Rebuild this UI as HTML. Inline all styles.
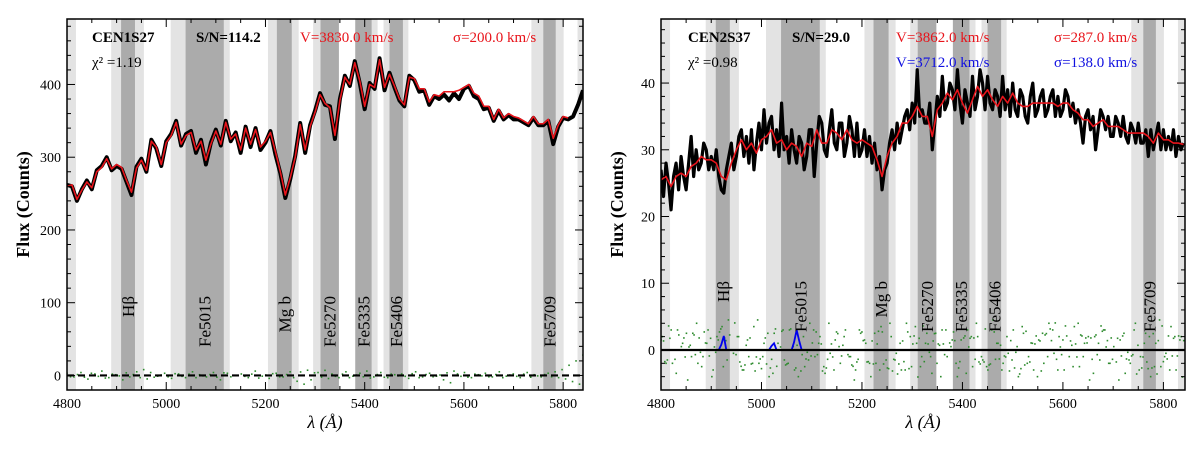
<!DOCTYPE html>
<html><head><meta charset="utf-8"><style>
html,body{margin:0;padding:0;background:#fff;}
svg{display:block;font-family:"Liberation Serif",serif;}
</style></head><body>
<svg id="fig" width="1200" height="450" viewBox="0 0 1200 450" font-family="Liberation Serif, serif"></svg>
<script>
// ---------- data ----------
const bandLight = [[4800,4818],[4889,4955],[5009,5128],[5205,5267],[5296,5348],[5381,5426],[5438,5488],[5736,5801],[5829,5850]];
const bandDark = [[4909,4937],[5039,5116],[5223,5253],[5311,5348],[5381,5414],[5450,5477],[5760,5785]];
const bandNames = ["H\u03B2","Fe5015","Mg b","Fe5270","Fe5335","Fe5406","Fe5709"];
const xTicks = [4800,5000,5200,5400,5600,5800];

const leftModel = [260,262,242,255,266,258,280,286,298,284,290,286,268,252,285,296,282,322,314,290,320,330,348,318,330,334,310,322,296,318,336,318,348,325,332,310,340,318,338,314,322,334,308,280,248,272,300,345,310,342,362,386,374,368,330,378,410,400,430,405,370,400,396,434,396,414,398,380,372,410,408,394,394,376,386,384,390,390,390,392,396,400,388,384,370,370,352,366,354,360,356,354,350,346,356,346,346,352,326,344,356,354];
const leftObs = [262,260,240,256,268,256,282,288,300,282,288,284,266,248,287,298,280,324,312,288,322,332,350,316,332,336,306,324,290,320,338,316,350,322,334,306,342,314,340,310,320,336,304,278,244,270,302,347,306,344,364,388,372,370,325,380,412,398,432,402,366,402,394,436,392,416,396,378,370,412,406,390,392,372,384,380,386,378,388,380,394,398,384,380,366,368,350,364,352,358,352,352,348,344,354,344,344,350,318,342,354,352,356,372,392];
const leftResid = [3,-2,4,-5,2,6,-3,1,-6,-2,5,8,4,-1,3,-4,2,-3,5,1,-2,4,-6,3,0,2,-3,6,-1,-4,3,-2,5,-8,-12,-6,4,7,2,-3,5,-1,3,6,-2,4,-3,1,2,-4,5,-2,3,-1,-6,-10,2,4,-3,1,3,-2,5,-1,2,-3,4,1,-2,3,5,8,14,20,28];
const rightModel = [25.5,26,24.5,26,26.5,26,27.5,28,29,28.5,28.5,28,26,25.5,28,30,31.5,30,31,29.5,31.5,32,33,31,31.5,30,31,30.5,29,31,30.5,33,31,31,33,32.5,31.5,33,31.5,31,31.5,31,30.5,28.5,26,29,31,32,34,34,35,36.5,35,35,32,36,37,38.5,37.5,39,37,35.5,37.5,39.5,38,39,37.5,36.5,38,37,38.5,37,36.5,36.5,37,37,37,37,37,36.5,37,37,36,35.5,34.5,34.5,33.5,34,34.5,33.5,33.5,33.5,33,32.5,32.5,32.5,32.5,32,31,32.5,31.5,31.5,31,31,30.8];
const rightObs = [27,23,28,25,21,26,28,24,29,26,24,28,32,26,30,27,28,31,30,27,29,27,30,26,24,23.5,27,29,31,27,29,32,33,29,32,28,33,27,31,34,30,36,31,34,35,30,33,29,37,30,32,28,33,30,28,32,31,27,29,33,33,26,31,35,34,30,29,33,36,31,30,34,34,29,31,35,33,29,34,29,30,33,29,32,28,31,27,29,24,27,28,31,33,30,34,31,33,35,36,33,37,34,42,35,36,34,34,37,30,34,38,35,41,36,37,40,39,36,42,37,34,39,37,35,41,36,38,42,40,36,41,37,36,39,38,35,41,36,39,35,40,36,35,39,38,35,34,38,40,35,36,38,39,35,36,38,39,35,38,35,36,39,38,35,37,34,36,34,31,35,36,33,35,30,33,36,35,33,35,32,32,35,34,32,35,32,31,34,33,31,34,31,31,33,29,33,30,32,34,30,33,30,32,30,33,29,32,30,31];
const rightResid = [1.5,-2,3,-3.5,0.5,2.5,-1,4,-2.5,1,-4,2,3.5,-1.5,0,2,-3,1.5,-2,4.5,-1,2.5,-3.5,1,3,-2,0.5,-4,2,-1.5,3,1,-2.5,4,-3,0.5,2,-1,-4.5,3,1.5,-2,2.5,-3,0,4,-1.5,1,-3,2,3.5,-2.5,1,-1,2.5,-4,3,0.5,-2,1.5,-3.5,2,4,-1,-2.5,3,1,-3,2,-1.5,0.5,3.5,-2,1,-4,2.5,-1,3,-3,1.5,0,-2.5,4,-1,2,-3.5,1,3,-2,0.5,-4.5,2.5,-1.5,3,-3,1,2,-2.5,4.5,-1,-3,2,1.5,-2];
const blueWl = [4800,4915,4920,4925,4930,5015,5020,5025,5030,5060,5065,5070,5075,5080,5843];
const blueVal = [0,0,0.8,2.1,0,0,0.6,1.0,0,0,1.2,3.0,1.4,0,0];

// ---------- helpers ----------
const NS = "http://www.w3.org/2000/svg";
const svg = document.getElementById("fig");
function mk(tag, attrs, parent){const e=document.createElementNS(NS,tag);for(const k in attrs)e.setAttribute(k,attrs[k]);(parent||svg).appendChild(e);return e;}

function panel(o){
  const g = mk("g",{});
  
  
  const X = v => o.x0 + (v-4800)/(o.xmax-4800)*(o.x1-o.x0);
  const Y = v => o.y1 - (v-o.ymin)/(o.ymax-o.ymin)*(o.y1-o.y0);
  const clipId = o.name+"-clip";
  const defs = mk("defs",{},g);
  const cp = mk("clipPath",{id:clipId},defs);
  mk("rect",{x:o.x0,y:o.y0,width:o.x1-o.x0,height:o.y1-o.y0},cp);
  const plot = mk("g",{"clip-path":"url(#"+clipId+")"},g);
  bandLight.forEach(b=>{const r=mk("rect",{x:X(b[0]),y:o.y0,width:X(b[1])-X(b[0]),height:o.y1-o.y0,fill:"#e3e3e3"},plot);
    
    });
  bandDark.forEach(b=>{const r=mk("rect",{x:X(b[0]),y:o.y0,width:X(b[1])-X(b[0]),height:o.y1-o.y0,fill:"#ababab"},plot);
    
    });
  // residual dots
  const resStep = (o.resEnd-4800)/(o.resid.length-1);
  const n = o.resid.length;
  o.resid.forEach((v,i)=>{const w=4800+i*resStep;
    const vals = o.dense ? [v, -o.resid[n-1-i], o.resid[(i*7)%n]*0.9, -o.resid[(i*3+5)%n]*0.7] : [v, -v*0.6];
    vals.forEach((rv,k)=>{
      const d=mk("rect",{x:X(w+k*resStep/vals.length)-0.8,y:Y(rv)-0.8,width:1.6,height:1.6,fill:"#2e8b2e"},plot);
      
      
    });});
  if(o.blue){
    const p=mk("polyline",{points:blueWl.map((w,i)=>X(w)+","+Y(blueVal[i])).join(" "),fill:"none",stroke:"#0000ee","stroke-width":1.8},plot);
    
    
  }
  // zero line
  const z = mk("line",{x1:o.x0,x2:o.x1,y1:Y(0),y2:Y(0),stroke:"#000","stroke-width":2.2,"stroke-dasharray":o.zeroDash?"7,4":"none"},plot);
  
  
  const obsStep = o.obsStep;
  const ob=mk("polyline",{points:o.obs.map((v,i)=>X(4800+i*obsStep)+","+Y(v)).join(" "),fill:"none",stroke:"#000","stroke-width":o.obsW,"stroke-linejoin":"round"},plot);
  
  
  const md=mk("polyline",{points:o.model.map((v,i)=>X(4800+i*10)+","+Y(v)).join(" "),fill:"none",stroke:"#e8141b","stroke-width":1.6,"stroke-linejoin":"round"},plot);
  
  
  // band labels
  bandDark.forEach((b,i)=>{const cx=X((b[0]+b[1])/2)+6;
    const t=mk("text",{x:0,y:0,transform:"translate("+cx+","+o.labTop+") rotate(-90)","text-anchor":"end","font-size":"17",fill:"#000"},g);
    t.textContent = bandNames[i];
    
    });
  // frame
  const fr=mk("rect",{x:o.x0,y:o.y0,width:o.x1-o.x0,height:o.y1-o.y0,fill:"none",stroke:"#000","stroke-width":1.5},g);
  
  
  // x ticks
  for(let w=4800; w<=o.xmax; w+=50){const major = w%200===0; const L=major?8:4;
    mk("line",{x1:X(w),x2:X(w),y1:o.y1,y2:o.y1-L,stroke:"#000","stroke-width":1},g);
    mk("line",{x1:X(w),x2:X(w),y1:o.y0,y2:o.y0+L,stroke:"#000","stroke-width":1},g);}
  xTicks.forEach(w=>{const t=mk("text",{x:X(w),y:o.y1+18,"text-anchor":"middle","font-size":"14","font-family":"Liberation Serif, serif"},g);t.textContent=w;
    
    });
  // y ticks
  for(let v=o.ymin - (o.ymin % o.minor); v<=o.ymax; v+=o.minor){ if(v<o.ymin) continue;
    const major = Math.abs(v % o.major)<1e-6; const L=major?8:4;
    mk("line",{x1:o.x0,x2:o.x0+L,y1:Y(v),y2:Y(v),stroke:"#000","stroke-width":1},g);
    mk("line",{x1:o.x1,x2:o.x1-L,y1:Y(v),y2:Y(v),stroke:"#000","stroke-width":1},g);}
  o.yTicks.forEach(v=>{const t=mk("text",{x:o.x0-6,y:Y(v)+5,"text-anchor":"end","font-size":"14","font-family":"Liberation Serif, serif"},g);t.textContent=v;
    
    });
  // axis titles
  const yt=mk("text",{x:0,y:0,transform:"translate("+(o.x0-38)+","+((o.y0+o.y1)/2)+") rotate(-90)","text-anchor":"middle","font-size":"18","font-weight":"bold"},g);
  yt.textContent="Flux (Counts)";
  
  
  const xt=mk("text",{x:(o.x0+o.x1)/2,y:o.y1+38,"text-anchor":"middle","font-size":"18","font-style":"italic"},g);
  xt.textContent="\u03BB (\u00C5)";
  
  
  // annotations
  o.notes.forEach(n=>{const t=mk("text",{x:n[0],y:n[1],"font-size":"15","font-weight":n[4]||"normal",fill:n[3]},g);t.textContent=n[2];
    
    });
}

panel({name:"left-panel-cen1s27",x0:67,x1:583,y0:19,y1:390,xmax:5840,ymin:-20,ymax:490,
  model:leftModel,obs:leftObs,obsStep:10,obsW:4,resid:leftResid,resEnd:5840,zeroDash:true,blue:false,dense:false,
  major:100,minor:20,yTicks:[0,100,200,300,400],labTop:296,
  notes:[[92,42,"CEN1S27","#000","bold"],[196,42,"S/N=114.2","#000","bold"],[300,42,"V=3830.0 km/s","#e8141b"],[453,42,"\u03C3=200.0 km/s","#e8141b"],[92,67,"\u03C7\u00B2 =1.19","#000"]]});

panel({name:"right-panel-cen2s37",x0:661,x1:1185,y0:19,y1:390,xmax:5843,ymin:-6,ymax:49.6,
  model:rightModel,obs:rightObs,obsStep:5,obsW:3.2,resid:rightResid,resEnd:5843,zeroDash:false,blue:true,dense:true,
  major:10,minor:2,yTicks:[0,10,20,30,40],labTop:281,
  notes:[[688,42,"CEN2S37","#000","bold"],[792,42,"S/N=29.0","#000","bold"],[896,42,"V=3862.0 km/s","#e8141b"],[1054,42,"\u03C3=287.0 km/s","#e8141b"],[688,67,"\u03C7\u00B2 =0.98","#000"],[896,67,"V=3712.0 km/s","#1010e0"],[1054,67,"\u03C3=138.0 km/s","#1010e0"]]});
</script>
</body></html>
